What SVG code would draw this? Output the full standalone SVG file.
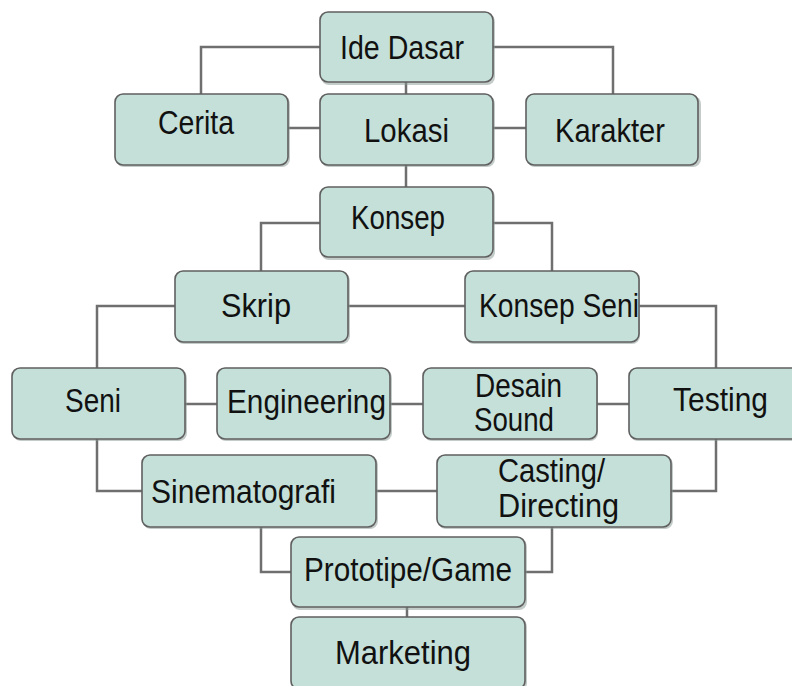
<svg xmlns="http://www.w3.org/2000/svg" width="792" height="686" viewBox="0 0 792 686">
<defs>
<style>
.box{fill:#c4e0d9;stroke:#5f5f5f;stroke-width:1.6}
.sh{fill:#8a9a96;opacity:0.5}
.t{font-family:"Liberation Sans",Arial,sans-serif;font-size:33px;fill:#111;}
.c{fill:none;stroke:#6f6f6f;stroke-width:2.5}
</style>
</defs>
<rect width="792" height="686" fill="#ffffff"/>
<g id="connectors">
<polyline class="c" points="320,47 201,47 201,94"/>
<polyline class="c" points="493,47 613,47 613,94"/>
<line class="c" x1="406" y1="82" x2="406" y2="94"/>
<line class="c" x1="288" y1="128" x2="320" y2="128"/>
<line class="c" x1="493" y1="128" x2="526" y2="128"/>
<line class="c" x1="406" y1="165" x2="406" y2="187"/>
<polyline class="c" points="320,223 261,223 261,271"/>
<polyline class="c" points="493,223 552,223 552,271"/>
<polyline class="c" points="175,306 97,306 97,368"/>
<line class="c" x1="348" y1="306" x2="465" y2="306"/>
<polyline class="c" points="639,306 716,306 716,368"/>
<line class="c" x1="185" y1="404" x2="217" y2="404"/>
<line class="c" x1="390" y1="404" x2="423" y2="404"/>
<line class="c" x1="597" y1="404" x2="629" y2="404"/>
<polyline class="c" points="97,439 97,491 142,491"/>
<line class="c" x1="376" y1="491" x2="437" y2="491"/>
<polyline class="c" points="671,491 716,491 716,439"/>
<polyline class="c" points="261,527 261,572 291,572"/>
<polyline class="c" points="552,527 552,572 525,572"/>
<line class="c" x1="407" y1="607" x2="407" y2="617"/>
</g>
<g id="ide-dasar">
<rect class="sh" x="321" y="14" width="174" height="71" rx="8"/>
<rect class="box" x="320" y="12" width="173" height="70" rx="8"/>
<text class="t" x="340" y="59" textLength="124" lengthAdjust="spacingAndGlyphs">Ide Dasar</text>
</g>
<g id="cerita">
<rect class="sh" x="116" y="96" width="174" height="71" rx="8"/>
<rect class="box" x="115" y="94" width="173" height="71" rx="8"/>
<text class="t" x="158" y="134" textLength="76" lengthAdjust="spacingAndGlyphs">Cerita</text>
</g>
<g id="lokasi">
<rect class="sh" x="321" y="96" width="174" height="71" rx="8"/>
<rect class="box" x="320" y="94" width="173" height="71" rx="8"/>
<text class="t" x="364" y="142" textLength="85" lengthAdjust="spacingAndGlyphs">Lokasi</text>
</g>
<g id="karakter">
<rect class="sh" x="527" y="96" width="174" height="71" rx="8"/>
<rect class="box" x="526" y="94" width="172" height="71" rx="8"/>
<text class="t" x="555" y="142" textLength="110" lengthAdjust="spacingAndGlyphs">Karakter</text>
</g>
<g id="konsep">
<rect class="sh" x="321" y="189" width="174" height="71" rx="8"/>
<rect class="box" x="320" y="187" width="173" height="70" rx="8"/>
<text class="t" x="351" y="229" textLength="94" lengthAdjust="spacingAndGlyphs">Konsep</text>
</g>
<g id="skrip">
<rect class="sh" x="176" y="273" width="174" height="71" rx="8"/>
<rect class="box" x="175" y="271" width="173" height="71" rx="8"/>
<text class="t" x="221" y="317" textLength="70" lengthAdjust="spacingAndGlyphs">Skrip</text>
</g>
<g id="konsep-seni">
<rect class="sh" x="466" y="273" width="174" height="71" rx="8"/>
<rect class="box" x="465" y="271" width="174" height="71" rx="8"/>
<text class="t" x="479" y="317" textLength="160" lengthAdjust="spacingAndGlyphs">Konsep Seni</text>
</g>
<g id="seni">
<rect class="sh" x="13" y="370" width="174" height="71" rx="8"/>
<rect class="box" x="12" y="368" width="173" height="71" rx="8"/>
<text class="t" x="65" y="412" textLength="56" lengthAdjust="spacingAndGlyphs">Seni</text>
</g>
<g id="engineering">
<rect class="sh" x="218" y="370" width="174" height="71" rx="8"/>
<rect class="box" x="217" y="368" width="173" height="71" rx="8"/>
<text class="t" x="227" y="413" textLength="159" lengthAdjust="spacingAndGlyphs">Engineering</text>
</g>
<g id="desain-sound">
<rect class="sh" x="424" y="370" width="174" height="71" rx="8"/>
<rect class="box" x="423" y="368" width="174" height="71" rx="8"/>
<text class="t" x="475" y="397" textLength="87" lengthAdjust="spacingAndGlyphs">Desain</text>
<text class="t" x="474" y="431" textLength="80" lengthAdjust="spacingAndGlyphs">Sound</text>
</g>
<g id="testing">
<rect class="sh" x="630" y="370" width="174" height="71" rx="8"/>
<rect class="box" x="629" y="368" width="172" height="71" rx="8"/>
<text class="t" x="673" y="411" textLength="95" lengthAdjust="spacingAndGlyphs">Testing</text>
</g>
<g id="sinematografi">
<rect class="sh" x="143" y="457" width="235" height="72" rx="8"/>
<rect class="box" x="142" y="455" width="234" height="72" rx="8"/>
<text class="t" x="151" y="503" textLength="185" lengthAdjust="spacingAndGlyphs">Sinematografi</text>
</g>
<g id="casting-directing">
<rect class="sh" x="438" y="457" width="235" height="72" rx="8"/>
<rect class="box" x="437" y="455" width="234" height="72" rx="8"/>
<text class="t" x="498" y="482" textLength="107" lengthAdjust="spacingAndGlyphs">Casting/</text>
<text class="t" x="498" y="517" textLength="121" lengthAdjust="spacingAndGlyphs">Directing</text>
</g>
<g id="prototipe-game">
<rect class="sh" x="292" y="539" width="235" height="71" rx="8"/>
<rect class="box" x="291" y="537" width="234" height="70" rx="8"/>
<text class="t" x="304" y="581" textLength="208" lengthAdjust="spacingAndGlyphs">Prototipe/Game</text>
</g>
<g id="marketing">
<rect class="sh" x="292" y="619" width="235" height="72" rx="8"/>
<rect class="box" x="291" y="617" width="234" height="72" rx="8"/>
<text class="t" x="335" y="664" textLength="136" lengthAdjust="spacingAndGlyphs">Marketing</text>
</g>
</svg>
